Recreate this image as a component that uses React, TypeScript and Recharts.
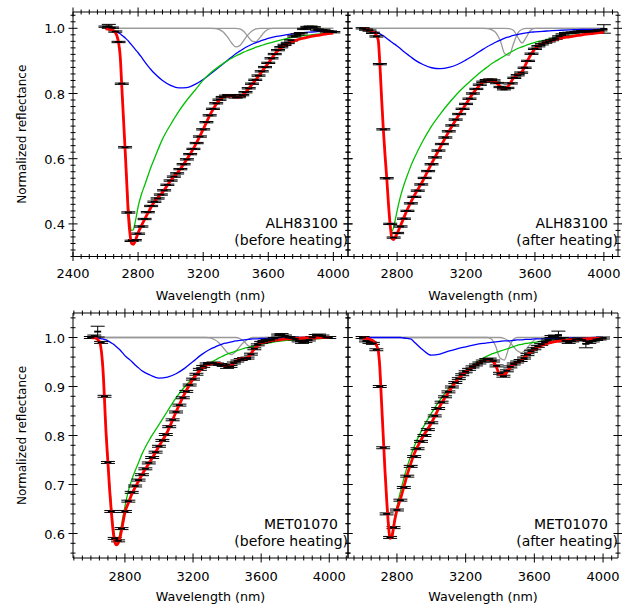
import { ComposedChart, ErrorBar, Line, Scatter, XAxis, YAxis } from "recharts";

const PAGE_W = 622;
const PAGE_H = 604;
const FONT = "'DejaVu Sans', Verdana, sans-serif";

// wavelength grids (nm)
const curveWl = [2600, 2625, 2650, 2670, 2690, 2700, 2710, 2720, 2730, 2740, 2750, 2760, 2770, 2780, 2790, 2800, 2820, 2840, 2860, 2880, 2900, 2950, 3000, 3050, 3100, 3150, 3200, 3250, 3300, 3325, 3350, 3375, 3400, 3425, 3450, 3475, 3500, 3525, 3550, 3575, 3600, 3650, 3700, 3750, 3800, 3850, 3900, 3950, 4000];
const narrowWl = [2600, 3250, 3275, 3300, 3325, 3350, 3375, 3400, 3425, 3450, 3475, 3500, 3525, 3550, 3575, 3600, 3625, 3650, 4000];
const obsWl = [2600, 2620, 2640, 2660, 2680, 2700, 2720, 2740, 2760, 2780, 2800, 2820, 2840, 2860, 2880, 2900, 2920, 2940, 2960, 2980, 3000, 3020, 3040, 3060, 3080, 3100, 3120, 3140, 3160, 3180, 3200, 3220, 3240, 3260, 3280, 3300, 3320, 3340, 3360, 3380, 3400, 3420, 3440, 3460, 3480, 3500, 3520, 3540, 3560, 3580, 3600, 3620, 3640, 3660, 3680, 3700, 3720, 3740, 3760, 3780, 3800, 3820, 3840, 3860, 3880, 3900, 3920, 3940, 3960, 3980, 4000];

// tick labels
const xMajor = [2400, 2800, 3200, 3600, 4000];
const yMajorTop = [0.4, 0.6, 0.8, 1.0];
const yMajorBottom = [0.6, 0.7, 0.8, 0.9, 1.0];

// ALH83100, before heating
const alhBeforeObs = [1.005, 1.006, 1.002, 0.99, 0.958, 0.83, 0.635, 0.435, 0.348, 0.35, 0.37, 0.392, 0.415, 0.436, 0.455, 0.468, 0.478, 0.49, 0.503, 0.52, 0.533, 0.545, 0.555, 0.568, 0.583, 0.598, 0.614, 0.63, 0.648, 0.668, 0.69, 0.712, 0.733, 0.753, 0.77, 0.781, 0.789, 0.793, 0.795, 0.793, 0.788, 0.789, 0.795, 0.804, 0.816, 0.83, 0.842, 0.855, 0.868, 0.881, 0.894, 0.908, 0.921, 0.933, 0.942, 0.949, 0.955, 0.963, 0.975, 0.981, 0.985, 0.998, 1.004, 1.005, 1.003, 0.996, 0.994, 0.995, 0.99, 0.99, 0.988];
const alhBeforeErr = [[2620, 0.006]];
const alhBeforeFit = [0.998, 0.997, 0.993, 0.977, 0.915, 0.82, 0.725, 0.63, 0.53, 0.43, 0.37, 0.34, 0.337, 0.344, 0.358, 0.372, 0.394, 0.414, 0.433, 0.452, 0.468, 0.497, 0.533, 0.562, 0.598, 0.64, 0.69, 0.742, 0.78, 0.79, 0.793, 0.793, 0.789, 0.79, 0.798, 0.812, 0.828, 0.843, 0.86, 0.877, 0.893, 0.927, 0.948, 0.96, 0.968, 0.974, 0.978, 0.982, 0.985];
const alhBeforeMain = [1.0, 0.999, 0.994, 0.978, 0.918, 0.83, 0.735, 0.64, 0.545, 0.46, 0.405, 0.38, 0.382, 0.4, 0.425, 0.452, 0.49, 0.518, 0.547, 0.575, 0.6, 0.66, 0.705, 0.745, 0.78, 0.81, 0.841, 0.865, 0.884, 0.893, 0.901, 0.908, 0.915, 0.921, 0.927, 0.932, 0.937, 0.942, 0.946, 0.95, 0.954, 0.961, 0.967, 0.972, 0.976, 0.979, 0.982, 0.985, 0.987];
const alhBeforeBroad = [0.999, 0.997, 0.993, 0.989, 0.983, 0.979, 0.975, 0.971, 0.966, 0.961, 0.955, 0.949, 0.943, 0.937, 0.931, 0.925, 0.912, 0.898, 0.885, 0.873, 0.862, 0.84, 0.825, 0.817, 0.818, 0.828, 0.843, 0.862, 0.882, 0.892, 0.902, 0.912, 0.922, 0.93, 0.938, 0.945, 0.951, 0.956, 0.961, 0.965, 0.969, 0.975, 0.979, 0.983, 0.986, 0.988, 0.99, 0.991, 0.993];
const alhBeforeNarrowA = [1, 1, 0.999, 0.996, 0.988, 0.973, 0.955, 0.943, 0.947, 0.963, 0.98, 0.992, 0.998, 1, 1, 1, 1, 1, 1];
const alhBeforeNarrowB = [1, 1, 1, 1, 1, 1, 1, 1, 0.998, 0.99, 0.975, 0.961, 0.959, 0.972, 0.988, 0.997, 1, 1, 1];

// ALH83100, after heating
const alhAfterObs = [1.0, 0.996, 0.993, 0.986, 0.975, 0.89, 0.69, 0.54, 0.4, 0.358, 0.372, 0.392, 0.416, 0.44, 0.463, 0.483, 0.502, 0.521, 0.541, 0.562, 0.583, 0.604, 0.625, 0.645, 0.665, 0.684, 0.702, 0.72, 0.737, 0.753, 0.768, 0.784, 0.8, 0.814, 0.827, 0.836, 0.841, 0.843, 0.84, 0.832, 0.82, 0.813, 0.817, 0.831, 0.848, 0.856, 0.864, 0.879, 0.9, 0.922, 0.937, 0.945, 0.951, 0.956, 0.96, 0.964, 0.968, 0.975, 0.981, 0.985, 0.986, 0.987, 0.988, 0.99, 0.991, 0.99, 0.99, 0.991, 0.992, 0.994, 0.998];
const alhAfterErr = [[4000, 0.013]];
const alhAfterFit = [0.998, 0.996, 0.992, 0.986, 0.965, 0.89, 0.785, 0.69, 0.61, 0.54, 0.46, 0.395, 0.355, 0.352, 0.36, 0.37, 0.395, 0.42, 0.445, 0.467, 0.487, 0.533, 0.585, 0.635, 0.683, 0.727, 0.768, 0.807, 0.835, 0.841, 0.841, 0.834, 0.82, 0.814, 0.826, 0.847, 0.858, 0.867, 0.893, 0.918, 0.937, 0.954, 0.963, 0.97, 0.974, 0.978, 0.982, 0.985, 0.988];
const alhAfterMain = [1.0, 0.999, 0.995, 0.988, 0.967, 0.895, 0.795, 0.7, 0.615, 0.54, 0.465, 0.4, 0.378, 0.39, 0.415, 0.44, 0.485, 0.52, 0.55, 0.578, 0.602, 0.655, 0.7, 0.737, 0.77, 0.8, 0.826, 0.85, 0.872, 0.882, 0.892, 0.9, 0.908, 0.916, 0.924, 0.931, 0.938, 0.943, 0.948, 0.953, 0.957, 0.963, 0.969, 0.973, 0.977, 0.98, 0.983, 0.985, 0.987];
const alhAfterBroad = [0.999, 0.997, 0.993, 0.99, 0.986, 0.983, 0.98, 0.977, 0.973, 0.969, 0.965, 0.961, 0.957, 0.953, 0.95, 0.946, 0.937, 0.928, 0.92, 0.912, 0.904, 0.889, 0.879, 0.876, 0.88, 0.889, 0.903, 0.919, 0.936, 0.944, 0.951, 0.958, 0.964, 0.97, 0.974, 0.978, 0.981, 0.984, 0.986, 0.988, 0.989, 0.991, 0.993, 0.994, 0.995, 0.996, 0.997, 0.997, 0.998];
const alhAfterNarrowA = [1, 1, 1, 1, 0.999, 0.995, 0.985, 0.96, 0.922, 0.917, 0.952, 0.985, 0.997, 1, 1, 1, 1, 1, 1];
const alhAfterNarrowB = [1, 1, 1, 1, 1, 1, 1, 1, 1, 0.999, 0.994, 0.973, 0.955, 0.973, 0.994, 1, 1, 1, 1];

// MET01070, before heating
const metBeforeObs = [1.0, 1.003, 1.012, 0.99, 0.88, 0.745, 0.645, 0.59, 0.585, 0.61, 0.645, 0.666, 0.684, 0.697, 0.709, 0.72, 0.732, 0.744, 0.755, 0.766, 0.778, 0.79, 0.802, 0.818, 0.832, 0.848, 0.862, 0.877, 0.89, 0.903, 0.915, 0.925, 0.935, 0.941, 0.946, 0.947, 0.948, 0.946, 0.945, 0.943, 0.939, 0.941, 0.948, 0.952, 0.955, 0.957, 0.958, 0.966, 0.977, 0.985, 0.99, 0.992, 0.994, 0.995, 0.998, 1.005, 1.006, 1.003, 1.0, 0.999, 0.997, 0.993, 0.99, 0.992, 0.995, 1.0, 1.004, 1.005, 1.003, 1.0, 1.0];
const metBeforeErr = [[2640, 0.011]];
const metBeforeFit = [1.0, 0.999, 0.992, 0.94, 0.8, 0.745, 0.69, 0.645, 0.607, 0.583, 0.577, 0.58, 0.59, 0.606, 0.625, 0.643, 0.662, 0.68, 0.694, 0.707, 0.72, 0.748, 0.778, 0.808, 0.848, 0.885, 0.915, 0.936, 0.946, 0.947, 0.947, 0.944, 0.94, 0.943, 0.951, 0.956, 0.957, 0.96, 0.972, 0.982, 0.988, 0.993, 0.995, 0.997, 0.998, 0.999, 0.999, 1.0, 1.0];
const metBeforeMain = [1.0, 0.999, 0.993, 0.945, 0.81, 0.755, 0.7, 0.655, 0.618, 0.594, 0.583, 0.585, 0.6, 0.618, 0.637, 0.655, 0.687, 0.71, 0.728, 0.745, 0.762, 0.795, 0.822, 0.85, 0.877, 0.899, 0.918, 0.935, 0.948, 0.953, 0.958, 0.962, 0.966, 0.969, 0.972, 0.975, 0.978, 0.98, 0.982, 0.984, 0.986, 0.989, 0.992, 0.994, 0.995, 0.996, 0.997, 0.998, 0.999];
const metBeforeBroad = [1.0, 0.999, 0.998, 0.997, 0.995, 0.993, 0.991, 0.989, 0.987, 0.984, 0.981, 0.978, 0.975, 0.971, 0.967, 0.963, 0.957, 0.951, 0.944, 0.938, 0.932, 0.923, 0.917, 0.919, 0.926, 0.937, 0.951, 0.965, 0.976, 0.98, 0.984, 0.987, 0.989, 0.991, 0.993, 0.994, 0.995, 0.996, 0.997, 0.997, 0.998, 0.998, 0.999, 0.999, 1.0, 1.0, 1.0, 1.0, 1.0];
const metBeforeNarrowA = [1, 1, 1, 0.999, 0.996, 0.99, 0.98, 0.97, 0.965, 0.971, 0.982, 0.991, 0.997, 1, 1, 1, 1, 1, 1];
const metBeforeNarrowB = [1, 1, 1, 1, 1, 1, 1, 1, 1, 1, 0.998, 0.992, 0.983, 0.981, 0.989, 0.997, 1, 1, 1];

// MET01070, after heating
const metAfterObs = [1.0, 0.993, 0.99, 0.988, 0.975, 0.9, 0.775, 0.64, 0.592, 0.612, 0.648, 0.668, 0.694, 0.717, 0.737, 0.757, 0.773, 0.788, 0.8, 0.812, 0.826, 0.84, 0.855, 0.868, 0.879, 0.889, 0.899, 0.908, 0.916, 0.924, 0.93, 0.935, 0.94, 0.944, 0.948, 0.952, 0.955, 0.956, 0.952, 0.942, 0.927, 0.921, 0.932, 0.94, 0.946, 0.95, 0.953, 0.958, 0.965, 0.972, 0.977, 0.982, 0.986, 0.99, 0.995, 1.002, 1.003, 1.005, 0.998, 0.993, 0.99, 0.993, 0.996, 0.997, 0.995, 0.987, 0.99, 0.993, 0.996, 0.997, 0.999];
const metAfterErr = [[3740, 0.008], [3900, 0.008]];
const metAfterFit = [0.999, 0.998, 0.995, 0.99, 0.975, 0.94, 0.87, 0.8, 0.73, 0.67, 0.62, 0.59, 0.592, 0.612, 0.632, 0.648, 0.67, 0.695, 0.72, 0.742, 0.762, 0.797, 0.825, 0.86, 0.888, 0.913, 0.93, 0.942, 0.952, 0.955, 0.954, 0.943, 0.924, 0.924, 0.935, 0.944, 0.949, 0.954, 0.962, 0.969, 0.976, 0.985, 0.99, 0.993, 0.995, 0.996, 0.997, 0.998, 0.998];
const metAfterMain = [1.0, 0.999, 0.996, 0.991, 0.976, 0.945, 0.875, 0.805, 0.735, 0.675, 0.625, 0.595, 0.598, 0.618, 0.638, 0.655, 0.685, 0.712, 0.737, 0.758, 0.777, 0.815, 0.845, 0.872, 0.895, 0.915, 0.932, 0.946, 0.957, 0.962, 0.966, 0.969, 0.972, 0.975, 0.978, 0.981, 0.984, 0.986, 0.988, 0.989, 0.99, 0.993, 0.995, 0.996, 0.997, 0.998, 0.998, 0.999, 0.999];
const metAfterBroad = [1, 1, 1, 1, 1, 1, 1, 1, 1, 1, 1, 1, 1, 1, 1, 1, 1, 0.999, 0.998, 0.997, 0.991, 0.975, 0.964, 0.966, 0.972, 0.977, 0.981, 0.985, 0.988, 0.989, 0.99, 0.991, 0.992, 0.993, 0.993, 0.994, 0.995, 0.995, 0.996, 0.996, 0.997, 0.997, 0.998, 0.998, 0.999, 0.999, 0.999, 1.0, 1.0];
const metAfterNarrowA = [1, 1, 1, 1, 1, 0.997, 0.982, 0.958, 0.954, 0.977, 0.995, 1, 1, 1, 1, 1, 1, 1, 1];
const metAfterNarrowB = [1, 1, 1, 1, 1, 1, 1, 1, 0.998, 0.993, 0.983, 0.973, 0.969, 0.975, 0.986, 0.995, 0.999, 1, 1];

const pts = (xs: number[], ys: number[]) => xs.map((x, i) => ({ x, y: ys[i] }));

const obsPts = (ys: number[], big: number[][]) =>
  obsWl.map((x, i) => {
    const hit = big.find((b) => b[0] === x);
    return { x, y: ys[i], e: hit ? hit[1] : 0.002 };
  });

const steps = (from: number, to: number, step: number) => {
  const out: number[] = [];
  for (let v = from; v <= to + 1e-9; v += step) out.push(Math.round(v * 1000) / 1000);
  return out;
};

type PanelDef = {
  box: { l: number; r: number; t: number; b: number };
  xDomain: [number, number];
  yDomain: [number, number];
  yFirstMinor: number;
  yMajor: number[];
  yLabels: boolean;
  xLabelDy: number;
  sample: string;
  state: string;
  obs: { x: number; y: number; e: number }[];
  fit: { x: number; y: number }[];
  main: { x: number; y: number }[];
  broad: { x: number; y: number }[];
  narrowA: { x: number; y: number }[];
  narrowB: { x: number; y: number }[];
};

const panels: PanelDef[] = [
  {
    box: { l: 73, r: 348, t: 12, b: 256.5 },
    xDomain: [2400, 4090],
    yDomain: [0.3, 1.05],
    yFirstMinor: 0.3,
    yMajor: yMajorTop,
    yLabels: true,
    xLabelDy: 21,
    sample: "ALH83100",
    state: "(before heating)",
    obs: obsPts(alhBeforeObs, alhBeforeErr),
    fit: pts(curveWl, alhBeforeFit),
    main: pts(curveWl, alhBeforeMain),
    broad: pts(curveWl, alhBeforeBroad),
    narrowA: pts(narrowWl, alhBeforeNarrowA),
    narrowB: pts(narrowWl, alhBeforeNarrowB),
  },
  {
    box: { l: 348, r: 618, t: 12, b: 256.5 },
    xDomain: [2515, 4082],
    yDomain: [0.3, 1.05],
    yFirstMinor: 0.3,
    yMajor: yMajorTop,
    yLabels: false,
    xLabelDy: 21,
    sample: "ALH83100",
    state: "(after heating)",
    obs: obsPts(alhAfterObs, alhAfterErr),
    fit: pts(curveWl, alhAfterFit),
    main: pts(curveWl, alhAfterMain),
    broad: pts(curveWl, alhAfterBroad),
    narrowA: pts(narrowWl, alhAfterNarrowA),
    narrowB: pts(narrowWl, alhAfterNarrowB),
  },
  {
    box: { l: 73, r: 348, t: 313, b: 558 },
    xDomain: [2495, 4110],
    yDomain: [0.55, 1.05],
    yFirstMinor: 0.56,
    yMajor: yMajorBottom,
    yLabels: true,
    xLabelDy: 23,
    sample: "MET01070",
    state: "(before heating)",
    obs: obsPts(metBeforeObs, metBeforeErr),
    fit: pts(curveWl, metBeforeFit),
    main: pts(curveWl, metBeforeMain),
    broad: pts(curveWl, metBeforeBroad),
    narrowA: pts(narrowWl, metBeforeNarrowA),
    narrowB: pts(narrowWl, metBeforeNarrowB),
  },
  {
    box: { l: 348, r: 618, t: 313, b: 558 },
    xDomain: [2515, 4087],
    yDomain: [0.55, 1.05],
    yFirstMinor: 0.56,
    yMajor: yMajorBottom,
    yLabels: false,
    xLabelDy: 23,
    sample: "MET01070",
    state: "(after heating)",
    obs: obsPts(metAfterObs, metAfterErr),
    fit: pts(curveWl, metAfterFit),
    main: pts(curveWl, metAfterMain),
    broad: pts(curveWl, metAfterBroad),
    narrowA: pts(narrowWl, metAfterNarrowA),
    narrowB: pts(narrowWl, metAfterNarrowB),
  },
];

const Dash = (props: any) => {
  const { cx, cy } = props;
  if (cx == null || cy == null) return <g />;
  return <line x1={cx - 3.5} x2={cx + 3.5} y1={cy} y2={cy} stroke="#000" strokeWidth={1.8} />;
};

function Panel({ p }: { p: PanelDef }) {
  const { l, r, t, b } = p.box;
  const xTicks = steps(Math.ceil(p.xDomain[0] / 50) * 50, p.xDomain[1], 50);
  const yTicks = steps(p.yFirstMinor, p.yDomain[1], 0.02);
  const majorX = (v: number) => xMajor.includes(v);
  const majorY = (v: number) => p.yMajor.some((m) => Math.abs(m - v) < 1e-6);

  const xTick = (axisY: number, labels: boolean) => (props: any) => {
    const { x, payload } = props;
    const big = majorX(payload.value);
    const h = big ? 4.5 : 2.5;
    return (
      <g>
        <line x1={x} x2={x} y1={axisY - h} y2={axisY + h} stroke="#000" strokeWidth={1} />
        {labels && big ? (
          <text x={x} y={axisY + p.xLabelDy} textAnchor="middle" fontSize={13} fontFamily={FONT} fill="#000">
            {payload.value}
          </text>
        ) : null}
      </g>
    );
  };

  const yTick = (axisX: number, labels: boolean) => (props: any) => {
    const { y, payload } = props;
    const big = majorY(payload.value);
    const h = big ? 4.5 : 2.5;
    return (
      <g>
        <line x1={axisX - h} x2={axisX + h} y1={y} y2={y} stroke="#000" strokeWidth={1} />
        {labels && big ? (
          <text x={axisX - 8} y={y + 5} textAnchor="end" fontSize={13} fontFamily={FONT} fill="#000">
            {payload.value.toFixed(1)}
          </text>
        ) : null}
      </g>
    );
  };

  const axisCommon = {
    type: "number" as const,
    allowDataOverflow: true,
    interval: 0 as const,
    tickLine: false,
    tickSize: 0,
    tickMargin: 0,
    axisLine: { stroke: "#000", strokeWidth: 1 },
  };

  return (
    <div style={{ position: "absolute", left: 0, top: 0 }}>
      <ComposedChart
        width={PAGE_W}
        height={PAGE_H}
        margin={{ left: l - 1, right: PAGE_W - r - 1, top: t - 1, bottom: PAGE_H - b - 1 }}
      >
        <XAxis {...axisCommon} xAxisId="b" dataKey="x" orientation="bottom" height={1} domain={p.xDomain} ticks={xTicks} tick={xTick(b, true)} />
        <XAxis {...axisCommon} xAxisId="t" dataKey="x" orientation="top" height={1} domain={p.xDomain} ticks={xTicks} tick={xTick(t, false)} />
        <YAxis {...axisCommon} yAxisId="l" dataKey="y" orientation="left" width={1} domain={p.yDomain} ticks={yTicks} tick={yTick(l, p.yLabels)} />
        <YAxis {...axisCommon} yAxisId="r" dataKey="y" orientation="right" width={1} domain={p.yDomain} ticks={yTicks} tick={yTick(r, false)} />
        <Line xAxisId="b" yAxisId="l" data={p.narrowA} dataKey="y" type="monotone" dot={false} stroke="#999999" strokeWidth={1.3} isAnimationActive={false} />
        <Line xAxisId="b" yAxisId="l" data={p.narrowB} dataKey="y" type="monotone" dot={false} stroke="#999999" strokeWidth={1.3} isAnimationActive={false} />
        <Line xAxisId="b" yAxisId="l" data={p.broad} dataKey="y" type="monotone" dot={false} stroke="#0000ff" strokeWidth={1.3} isAnimationActive={false} />
        <Line xAxisId="b" yAxisId="l" data={p.main} dataKey="y" type="monotone" dot={false} stroke="#00c000" strokeWidth={1.3} isAnimationActive={false} />
        <Scatter xAxisId="b" yAxisId="l" data={p.obs} dataKey="y" shape={Dash} isAnimationActive={false}>
          <ErrorBar dataKey="e" direction="y" width={7} stroke="#000" strokeWidth={1} isAnimationActive={false} />
        </Scatter>
        <Line xAxisId="b" yAxisId="l" data={p.fit} dataKey="y" type="monotone" dot={false} stroke="#ff0000" strokeWidth={2.8} isAnimationActive={false} />
      </ComposedChart>
    </div>
  );
}

export default function App() {
  return (
    <div style={{ position: "absolute", left: 0, top: 0, width: PAGE_W, height: PAGE_H, background: "#fff" }}>
      {panels.map((p, i) => (
        <Panel key={i} p={p} />
      ))}
      <svg width={PAGE_W} height={PAGE_H} style={{ position: "absolute", left: 0, top: 0, pointerEvents: "none" }}>
        {panels.map((p, i) => (
          <g key={i} fontFamily={FONT} fill="#000">
            <text x={(p.box.l + p.box.r) / 2} y={p.box.b + 43} textAnchor="middle" fontSize={12.7}>
              Wavelength (nm)
            </text>
            <text x={p.box.r - 10} y={p.box.b - 29} textAnchor="end" fontSize={14}>
              {p.sample}
            </text>
            <text x={p.box.r} y={p.box.b - 12} textAnchor="end" fontSize={14}>
              {p.state}
            </text>
            {p.yLabels ? (
              <text
                x={0}
                y={0}
                transform={`translate(26, ${(p.box.t + p.box.b) / 2}) rotate(-90)`}
                textAnchor="middle"
                fontSize={12}
              >
                Normalized reflectance
              </text>
            ) : null}
          </g>
        ))}
      </svg>
    </div>
  );
}
